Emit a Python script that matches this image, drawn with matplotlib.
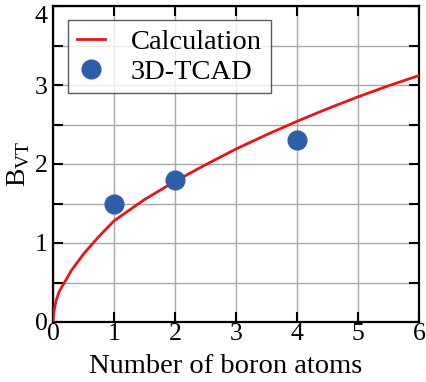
import matplotlib
matplotlib.use('Agg')
import matplotlib.pyplot as plt

# calculation curve
calc_x = [0, 0.02, 0.05, 0.1, 0.15, 0.3, 0.5, 0.75, 1.0, 1.5, 2.0, 2.5, 3.0, 3.5, 4.0, 4.5, 5.0, 5.5, 6.0]
calc_y = [0, 0.15, 0.27, 0.38, 0.45, 0.65, 0.86, 1.08, 1.28, 1.55, 1.78, 1.99, 2.19, 2.37, 2.54, 2.70, 2.85, 2.99, 3.12]

# 3D-TCAD points
tcad_x = [1, 2, 4]
tcad_y = [1.5, 1.8, 2.3]

x_ticks = [0, 1, 2, 3, 4, 5, 6]
y_ticks = [0, 1, 2, 3, 4]

plt.rcParams['font.family'] = ['Liberation Serif', 'DejaVu Serif']
plt.rcParams['mathtext.fontset'] = 'custom'
plt.rcParams['mathtext.rm'] = 'Liberation Serif'

fig = plt.figure(figsize=(4.26, 3.82), dpi=100)
ax = fig.add_axes([53 / 426, 1 - 322 / 382, 366 / 426, 316 / 382])

ax.plot(calc_x, calc_y, color='#e8141a', lw=2.0, label='Calculation', zorder=3)
ax.plot(tcad_x, tcad_y, ls='none', marker='o', ms=13.5, color='#2d5ea8',
        label='3D-TCAD', zorder=4)

ax.set_xlim(0, 6)
ax.set_ylim(0, 4)
ax.set_xticks(x_ticks)
ax.set_yticks(y_ticks)
ax.set_yticks([0.5, 1.5, 2.5, 3.5], minor=True)
ax.grid(True, which='both', axis='y', color='#a8a8a8', lw=1.0)
ax.grid(True, which='major', axis='x', color='#a8a8a8', lw=1.0)
ax.set_axisbelow(True)

ax.tick_params(which='both', direction='in', top=True, right=True,
               length=7, width=1.5, labelsize=18.5, pad=4)
ax.tick_params(axis='x', pad=1)
for s in ax.spines.values():
    s.set_linewidth(1.6)
# top y label sits just below the frame edge, as in the original
ax.yaxis.get_major_ticks()[-1].label1.set_va('top')

ax.set_xlabel('Number of boron atoms', fontsize=20.5)
ax.xaxis.set_label_coords((226 - 53) / 366, -0.1)
ax.set_ylabel(r'B$_{\mathrm{VT}}$', fontsize=20, labelpad=2)

leg = ax.legend(loc='upper left', bbox_to_anchor=(0.042, 0.955), fontsize=20.5,
                frameon=True, fancybox=False, edgecolor='#333333',
                borderpad=0.3, handlelength=1.0, handletextpad=0.9,
                labelspacing=0.15, borderaxespad=0)
leg.get_frame().set_linewidth(1.0)

fig.savefig('out.png', dpi=100)
